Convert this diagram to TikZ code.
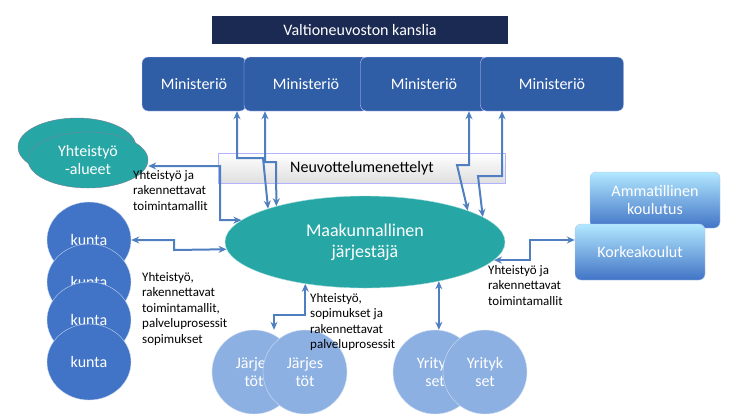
\documentclass[tikz,border=0pt]{standalone}
\usepackage{fontspec}
\setmainfont{Carlito}
\usetikzlibrary{positioning,shapes,arrows.meta}
\definecolor{navy}{HTML}{1B2A52}
\definecolor{minblue}{HTML}{2F5DA6}
\definecolor{teal}{HTML}{26A7A6}
\definecolor{kblue}{HTML}{4174C6}
\definecolor{lblue}{HTML}{8DB0E2}
\definecolor{arr}{HTML}{4F7FC0}
\begin{document}
\begin{tikzpicture}
 		[x=1pt, y=-1pt, font=\fontsize{16}{18}\selectfont,
 		every node/.style={align=center, inner sep=0pt},
 		minbox/.style={rectangle, rounded corners=6pt, fill=minblue, draw=blue!20,
 			text=white, minimum height=54pt},
 		kunta/.style={ellipse, fill=kblue, draw=white!70!kblue, text=white, minimum width=84pt, minimum height=76pt},
 		orgc/.style={circle, fill=lblue, draw=white!60!lblue, text=white, minimum size=84pt},
 		eduboxes/.style={rectangle, rounded corners=6pt, top color=blue!30!cyan!30, bottom color=kblue,
 			draw=white!60!kblue, text=white},
 		link/.style={draw=arr, line width=2pt, {Stealth[length=8pt,width=7pt]}-{Stealth[length=8pt,width=7pt]}},
 		lbl/.style={align=left, anchor=north west, font=\fontsize{13}{15.5}\selectfont},
 		]
 		\useasboundingbox (0,0) rectangle (735,413);
 		\node[fill=navy, text=white, minimum width=296pt, minimum height=28pt] (vnk) at (360,30) {Valtioneuvoston kanslia};
 		\node[minbox, minimum width=104pt] (m1) at (194,84) {Ministeriö};
 		\node[minbox, minimum width=124pt] (m2) at (306,84) {Ministeriö};
 		\node[minbox, minimum width=127pt] (m3) at (424,84) {Ministeriö};
 		\node[minbox, minimum width=143pt] (m4) at (552,84) {Ministeriö};
 		\node[rectangle, top color=white, bottom color=gray!25, draw=blue!30,
 			minimum width=287pt, minimum height=30pt] (neuv) at (362,168) {Neuvottelumenettelyt};
 		% yhteistyoalueet
 		\node[ellipse, fill=teal, draw=navy!60, minimum width=118pt, minimum height=58pt] (ya0) at (77,147) {};
 		\node[ellipse, fill=teal, draw=navy!60, text=white, minimum width=120pt, minimum height=56pt] (ya) at (88,160) {Yhteistyö\\-alueet};
 		\node[ellipse, fill=teal, draw=white!60!teal, text=white, minimum width=280pt, minimum height=92pt,
 			font=\fontsize{18}{21}\selectfont] (mk) at (365,242) {Maakunnallinen\\järjestäjä};
 		\node[kunta] (k1) at (89,240) {kunta};
 		\node[kunta] (k2) at (89,282) {kunta};
 		\node[kunta] (k3) at (89,320) {kunta};
 		\node[kunta] (k4) at (89,362) {kunta};
 		\node[eduboxes, minimum width=130pt, minimum height=56pt] (amk) at (655,200) {Ammatillinen\\koulutus};
 		\node[eduboxes, minimum width=130pt, minimum height=56pt] (kk) at (640,252) {Korkeakoulut};
 		\node[orgc] (j1) at (254,372) {Järjes\\töt};
 		\node[orgc] (j2) at (305,372) {Järjes\\töt};
 		\node[orgc] (y1) at (435,372) {Yrityk\\set};
 		\node[orgc] (y2) at (485,372) {Yrityk\\set};
 		% yhteydet
 		\draw[link] ([xshift=43pt]m1.south) |- (263,158) -- (mk.161);
 		\draw[link] ([xshift=-41pt]m2.south) |- (276,162) -- (mk.158);
 		\draw[link] ([xshift=45pt]m3.south) |- (457,165) -- (mk.17);
 		\draw[link] ([xshift=-50pt]m4.south) |- (478,176) -- (mk.12);
 		\draw[link] (ya.east |- 0,166) -| (220,220) -- (mk.170);
 		\draw[link] (k1.east) -| (174,250) -- (mk.183);
 		\draw[link] (mk.352) -| (530,240) -- (kk.west |- 0,240);
 		\draw[link] (mk.215) |- (274,315) -- (j1.north -| 274,0);
 		\draw[link] (mk.332) -- (y1.north -| mk.332);
 		% tekstit
 		\node[lbl] (t1) at (133,170) {Yhteistyö ja\\rakennettavat\\toimintamallit};
 		\node[lbl] (t2) at (142,272) {Yhteistyö,\\rakennettavat\\toimintamallit,\\palveluprosessit\\sopimukset};
 		\node[lbl] (t3) at (310,293) {Yhteistyö,\\sopimukset ja\\rakennettavat\\palveluprosessit};
 		\node[lbl] (t4) at (488,265) {Yhteistyö ja\\rakennettavat\\toimintamallit};
 	\end{tikzpicture}
\end{document}
